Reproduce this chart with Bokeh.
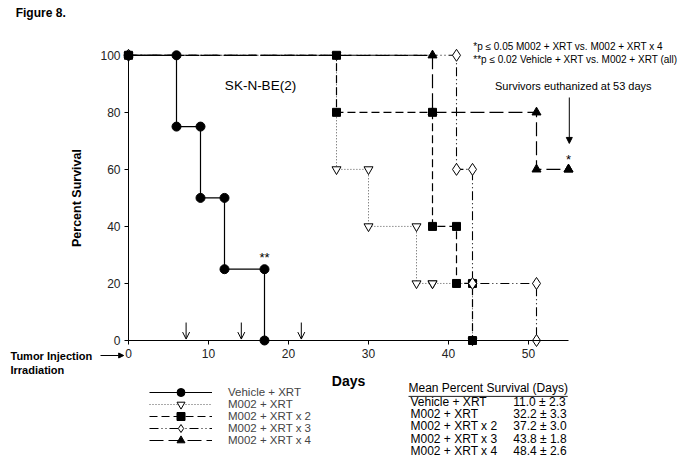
from bokeh.plotting import figure
from bokeh.models import (Label, Arrow, OpenHead, NormalHead, Legend, LegendItem,
                          FixedTicker, Range1d)
from bokeh.embed import file_html
from bokeh.resources import INLINE

FONT = "Liberation Sans"

# ---- data ----
series_names = ["Vehicle + XRT", "M002 + XRT", "M002 + XRT x 2", "M002 + XRT x 3", "M002 + XRT x 4"]
vehicle_days = [0, 6, 9, 12, 17]
vehicle_pct = [100, 75, 50, 25, 0]
m002_days = [0, 26, 30, 36, 38, 43]
m002_pct = [100, 60, 40, 20, 20, 0]
x2_days = [0, 26, 38, 41, 43]
x2_pct = [100, 80, 40, 20, 0]
x3_days = [0, 41, 43, 51]
x3_pct = [100, 60, 20, 0]
x4_days = [0, 38, 51, 55]
x4_pct = [100, 80, 60, 60]
mean_survival = ["11.0 \u00b1 2.3", "32.2 \u00b1 3.3", "37.2 \u00b1 3.0", "43.8 \u00b1 1.8", "48.4 \u00b1 2.6"]
x_ticks = [0, 10, 20, 30, 40, 50]
y_ticks = [0, 20, 40, 60, 80, 100]
treatment_days = [7.2, 14.1, 21.6]


def staircase(days, pct):
    xs = [days[0]]
    ys = [pct[0]]
    for i in range(1, len(days)):
        xs += [days[i], days[i]]
        ys += [pct[i - 1], pct[i]]
    return xs, ys


W, H = 683, 464
X0, PXD = 128.0, 8.0        # canvas x of day 0, pixels per day
Y0, PXP = 340.0, 2.852      # canvas y of 0 %, pixels per percent
p = figure(width=W, height=H,
           x_range=Range1d(-X0 / PXD, (W - X0) / PXD),
           y_range=Range1d(-(H - Y0) / PXP, Y0 / PXP),
           output_backend="svg", toolbar_location=None,
           min_border=0, min_border_left=0, min_border_right=0,
           min_border_top=0, min_border_bottom=0)
p.outline_line_color = None
p.grid.visible = False
p.background_fill_color = "white"

for ax in (p.xaxis[0], p.yaxis[0]):
    ax.fixed_location = 0
    ax.major_tick_out = 4
    ax.major_tick_in = 0
    ax.minor_tick_out = 0
    ax.minor_tick_in = 0
    ax.axis_line_color = "black"
    ax.major_tick_line_color = "black"
    ax.major_label_text_font = FONT
    ax.major_label_text_font_size = "12px"
    ax.major_label_text_color = "#222222"
    ax.axis_label_text_font = FONT
    ax.axis_label_text_font_style = "bold"
    ax.axis_label_text_color = "black"

p.xaxis.ticker = FixedTicker(ticks=x_ticks)
p.yaxis.ticker = FixedTicker(ticks=y_ticks)
p.xaxis.bounds = (0, 55)
p.yaxis.bounds = (0, 100)
p.xaxis.axis_label = "Days"
p.yaxis.axis_label = "Percent Survival"
p.xaxis.axis_label_text_font_size = "14px"
p.yaxis.axis_label_text_font_size = "12.5px"
p.xaxis.major_label_standoff = 4
p.yaxis.major_label_standoff = 4
p.xaxis.axis_label_standoff = 12
p.yaxis.axis_label_standoff = 13

all_days = [vehicle_days, m002_days, x2_days, x3_days, x4_days]
all_pct = [vehicle_pct, m002_pct, x2_pct, x3_pct, x4_pct]
styles = [
    dict(marker="circle", size=9, fill="black", dash="solid", color="black", lw=1.2),
    dict(marker="inverted_triangle", size=9, fill="white", dash="1 2", color="#555555", lw=1.0),
    dict(marker="square", size=8, fill="black", dash="8 4", color="black", lw=1.2),
    dict(marker="diamond", size=12, fill="white", dash="9 3 1 3 1 3", color="black", lw=1.1),
    dict(marker="triangle", size=9, fill="black", dash="14 5", color="black", lw=1.2),
]

line_r = {}
mark_r = {}
order = [1, 4, 2, 3, 0]
for i in order:
    xs, ys = staircase(all_days[i], all_pct[i])
    st = styles[i]
    line_r[i] = p.line(xs, ys, line_color=st["color"], line_width=st["lw"], line_dash=st["dash"])
for i in order:
    xs, ys = staircase(all_days[i], all_pct[i])
    st = styles[i]
    mark_r[i] = p.scatter(xs, ys, marker=st["marker"], size=st["size"], fill_color=st["fill"],
                          line_color="black", line_width=1)

# one legend per row so rows can sit closer than the glyph box height
row_centers = [391.5, 403.5, 415.5, 427.5, 439.5]
for i in range(5):
    item = LegendItem(label=series_names[i], renderers=[line_r[i], mark_r[i]])
    lg = Legend(items=[item], location=(149, int(round(H - (row_centers[i] + 10)))),
                orientation="vertical",
                glyph_width=63, glyph_height=20, label_height=10, label_width=20,
                spacing=0, padding=0, margin=0, label_standoff=16,
                label_text_font=FONT, label_text_font_size="11.5px",
                border_line_color=None, background_fill_alpha=0)
    p.add_layout(lg, "center")


def lab(x, y, text, size="11px", align="left", bold=False, baseline="middle"):
    p.add_layout(Label(x=x, y=y, text=text, text_font=FONT, text_font_size=size,
                       text_align=align, text_baseline=baseline,
                       text_font_style="bold" if bold else "normal", text_color="black"))


lab(-14.1, 114.7, "Figure 8.", size="12px", bold=True)
lab(16.5, 89.5, "SK-N-BE(2)", size="13.5px", align="center")
lab(17, 29.1, "**", size="13px", align="center")
lab(55, 63.5, "*", size="13px", align="center")
lab(43.1, 103.2, "*p \u2264 0.05 M002 + XRT vs. M002 + XRT x 4", size="10px")
lab(43.1, 98.6, "**p \u2264 0.02 Vehicle + XRT vs. M002 + XRT (all)", size="10px")
lab(55.6, 89.1, "Survivors euthanized at 53 days", size="11px", align="center")
lab(-14.75, -5.26, "Tumor Injection", size="11px", bold=True)
lab(-14.75, -10.5, "Irradiation", size="11px", bold=True)

# arrows
p.add_layout(Arrow(end=NormalHead(size=6, fill_color="black", line_color="black"),
                   x_start=55.1, y_start=85.2, x_end=55.1, y_end=69.1, line_width=1))
p.add_layout(Arrow(end=NormalHead(size=5, fill_color="black", line_color="black"),
                   x_start=-3.5, y_start=-5.26, x_end=-0.6, y_end=-5.26, line_width=1))
for d in treatment_days:
    p.add_layout(Arrow(end=OpenHead(size=7, line_width=1), x_start=d, y_start=6.3,
                       x_end=d, y_end=0.5, line_width=1))

# mean survival table
lab(35, -16.8, "Mean Percent Survival (Days)", size="12px")
p.add_layout(Arrow(start=None, end=None, x_start=35, y_start=-19.6, x_end=54.9, y_end=-19.6,
                   line_width=1, line_color="#222222"))
row_y = [-21.4, -25.6, -29.8, -34.4, -38.6]
for name, val, y in zip(series_names, mean_survival, row_y):
    lab(35.25, y - 0.2, name, size="12px")
    lab(48.1, y - 0.2, val, size="12px")

open("out.html", "w").write(file_html(p, INLINE))
